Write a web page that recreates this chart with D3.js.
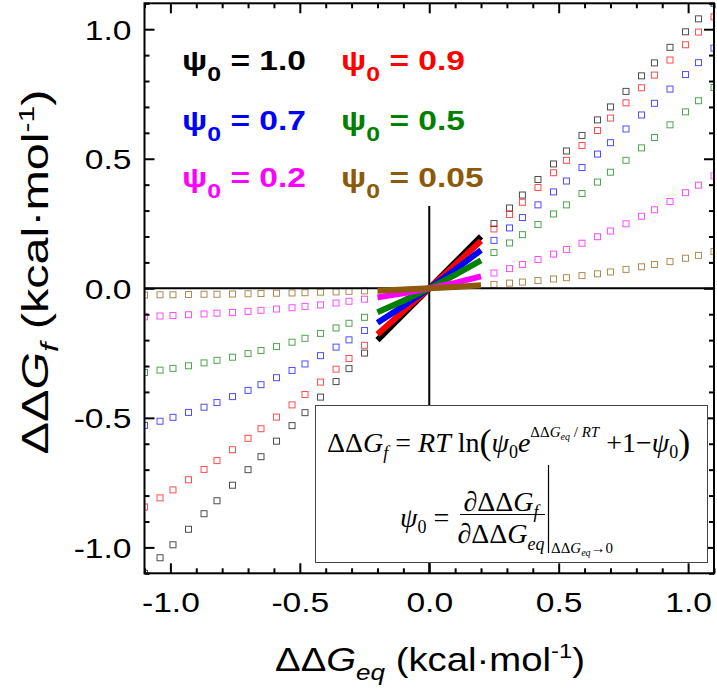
<!DOCTYPE html>
<html>
<head>
<meta charset="utf-8">
<script src="https://cdn.jsdelivr.net/npm/d3@7"></script>
<style>
  body { margin: 0; background: #fff; }
  svg { display: block; font-family: Arial, "Liberation Sans", sans-serif; }
</style>
</head>
<body>
<div id="chart"></div>
<script>
// square markers, ddG_eq on each side of zero
var xPos = [0.25, 0.31, 0.36, 0.42, 0.48, 0.53, 0.59, 0.65, 0.70, 0.76, 0.82, 0.87, 0.93, 0.99, 1.04, 1.10];
var xNeg = [-0.25, -0.31, -0.36, -0.42, -0.48, -0.53, -0.59, -0.65, -0.70, -0.76, -0.82, -0.87, -0.93, -0.99, -1.04, -1.10];

var psiLabels = ["1.0", "0.9", "0.7", "0.5", "0.2", "0.05"];
var colors = ["#000000", "#ff0000", "#0000ff", "#008000", "#ff00ff", "#8c5a0a"];

// ddG_f read for the positive side
var yPos1 = [0.25, 0.31, 0.36, 0.42, 0.48, 0.53, 0.59, 0.65, 0.70, 0.76, 0.82, 0.87, 0.93, 0.99, 1.04, 1.10];
var yPos09 = [0.229, 0.285, 0.332, 0.389, 0.446, 0.494, 0.551, 0.609, 0.657, 0.716, 0.774, 0.823, 0.881, 0.940, 0.989, 1.048];
var yPos07 = [0.185, 0.233, 0.273, 0.322, 0.372, 0.414, 0.466, 0.518, 0.562, 0.615, 0.669, 0.714, 0.769, 0.825, 0.871, 0.927];
var yPos05 = [0.138, 0.175, 0.207, 0.246, 0.287, 0.322, 0.366, 0.410, 0.448, 0.494, 0.542, 0.582, 0.631, 0.681, 0.724, 0.775];
var yPos02 = [0.059, 0.076, 0.092, 0.111, 0.132, 0.150, 0.174, 0.199, 0.221, 0.249, 0.278, 0.303, 0.335, 0.369, 0.398, 0.434];
var yPos005 = [0.015, 0.020, 0.024, 0.030, 0.036, 0.041, 0.049, 0.056, 0.063, 0.073, 0.083, 0.092, 0.103, 0.116, 0.127, 0.142];

// ddG_f read for the negative side
var yNeg1 = [-0.25, -0.31, -0.36, -0.42, -0.48, -0.53, -0.59, -0.65, -0.70, -0.76, -0.82, -0.87, -0.93, -0.99, -1.04, -1.10];
var yNeg09 = [-0.220, -0.271, -0.312, -0.362, -0.410, -0.450, -0.497, -0.542, -0.579, -0.623, -0.665, -0.699, -0.739, -0.778, -0.809, -0.844];
var yNeg07 = [-0.163, -0.199, -0.227, -0.260, -0.292, -0.317, -0.345, -0.372, -0.394, -0.418, -0.441, -0.459, -0.479, -0.498, -0.513, -0.529];
var yNeg05 = [-0.112, -0.135, -0.153, -0.174, -0.193, -0.208, -0.225, -0.240, -0.252, -0.266, -0.278, -0.288, -0.299, -0.309, -0.316, -0.325];
var yNeg02 = [-0.042, -0.050, -0.057, -0.064, -0.070, -0.075, -0.080, -0.085, -0.089, -0.093, -0.096, -0.099, -0.102, -0.105, -0.107, -0.110];
var yNeg005 = [-0.010, -0.012, -0.014, -0.015, -0.017, -0.018, -0.019, -0.020, -0.021, -0.022, -0.023, -0.023, -0.024, -0.025, -0.025, -0.026];

// thick lines near zero
var xNear = [-0.2, -0.1, 0, 0.1, 0.2];
var yNear = [
  [-0.200, -0.100, 0, 0.100, 0.200],
  [-0.177, -0.089, 0, 0.091, 0.183],
  [-0.133, -0.068, 0, 0.072, 0.147],
  [-0.092, -0.048, 0, 0.052, 0.108],
  [-0.035, -0.019, 0, 0.021, 0.046],
  [-0.009, -0.005, 0, 0.005, 0.012]
];

var yPosAll = [yPos1, yPos09, yPos07, yPos05, yPos02, yPos005];
var yNegAll = [yNeg1, yNeg09, yNeg07, yNeg05, yNeg02, yNeg005];

var majorTicks = [-1.0, -0.5, 0.0, 0.5, 1.0];
var minorTicks = [-1.1, -0.9, -0.8, -0.7, -0.6, -0.4, -0.3, -0.2, -0.1, 0.1, 0.2, 0.3, 0.4, 0.6, 0.7, 0.8, 0.9, 1.1];

var W = 717, H = 693;
var pL = 144.5, pR = 714, pT = 3.3, pB = 573.3;

var svg = d3.select("#chart").append("svg")
    .attr("width", W)
    .attr("height", H);

var x = d3.scaleLinear().domain([-1.1, 1.1]).range([pL, pR]);
var y = d3.scaleLinear().domain([-1.1, 1.1]).range([pB, pT]);

svg.append("clipPath").attr("id", "clip")
  .append("rect")
    .attr("x", pL).attr("y", pT)
    .attr("width", pR - pL).attr("height", pB - pT);

var plot = svg.append("g").attr("clip-path", "url(#clip)");

// hollow squares
var sq = 6;
for (var i = 0; i < psiLabels.length; i++) {
  var pts = [];
  xPos.forEach(function (v, j) { pts.push([v, yPosAll[i][j]]); });
  xNeg.forEach(function (v, j) { pts.push([v, yNegAll[i][j]]); });
  plot.append("g").selectAll("rect")
    .data(pts)
    .enter().append("rect")
      .attr("x", function (d) { return x(d[0]) - sq / 2; })
      .attr("y", function (d) { return y(d[1]) - sq / 2; })
      .attr("width", sq).attr("height", sq)
      .attr("fill", "none")
      .attr("stroke", colors[i])
      .attr("stroke-opacity", 0.7)
      .attr("stroke-width", 1);
}

// zero lines
plot.append("line")
  .attr("x1", x(-1.1)).attr("x2", x(1.1))
  .attr("y1", y(0)).attr("y2", y(0))
  .attr("stroke", "#000").attr("stroke-width", 2);
plot.append("line")
  .attr("x1", x(0)).attr("x2", x(0))
  .attr("y1", y(0.318)).attr("y2", y(-1.1))
  .attr("stroke", "#000").attr("stroke-width", 2);

// thick lines
var line = d3.line()
  .x(function (d) { return x(d[0]); })
  .y(function (d) { return y(d[1]); });
for (var i = 0; i < psiLabels.length; i++) {
  var pts = xNear.map(function (v, j) { return [v, yNear[i][j]]; });
  plot.append("path")
    .datum(pts)
    .attr("fill", "none")
    .attr("stroke", colors[i])
    .attr("stroke-width", 6)
    .attr("d", line);
}

// axes, ticks inward on all sides
var fmt = function (d) { return d.toFixed(1); };
var sxTick = 1.2;
function drawAxis(axisFn, ticks, size, tx, ty) {
  var a = axisFn.tickValues(ticks).tickSizeInner(-size).tickSizeOuter(0).tickFormat("");
  var g = svg.append("g")
    .attr("transform", "translate(" + tx + "," + ty + ")")
    .call(a);
  g.select(".domain").remove();
  g.selectAll(".tick line").attr("stroke", "#000").attr("stroke-width", 2);
  return g;
}
var gb = drawAxis(d3.axisBottom(x), majorTicks, 10, 0, pB);
gb.selectAll(".tick text").remove();
gb.selectAll(".tick").append("text")
  .attr("transform", "translate(0,39) scale(" + sxTick + ",1)")
  .attr("text-anchor", "middle")
  .attr("font-size", 28).attr("fill", "#000")
  .text(fmt);
drawAxis(d3.axisBottom(x), minorTicks, 5, 0, pB);
drawAxis(d3.axisTop(x), majorTicks, 10, 0, pT);
drawAxis(d3.axisTop(x), minorTicks, 5, 0, pT);
var gl = drawAxis(d3.axisLeft(y), majorTicks, 10, pL, 0);
gl.selectAll(".tick text").remove();
gl.selectAll(".tick").append("text")
  .attr("transform", "translate(-13,10) scale(" + sxTick + ",1)")
  .attr("text-anchor", "end")
  .attr("font-size", 28).attr("fill", "#000")
  .text(fmt);
drawAxis(d3.axisLeft(y), minorTicks, 5, pL, 0);
drawAxis(d3.axisRight(y), majorTicks, 10, pR, 0);
drawAxis(d3.axisRight(y), minorTicks, 5, pR, 0);

svg.append("rect")
  .attr("x", pL).attr("y", pT)
  .attr("width", pR - pL).attr("height", pB - pT)
  .attr("fill", "none").attr("stroke", "#000").attr("stroke-width", 2);

// legend
var legX = [182, 341];
var legY = [70, 130, 187];
var legScale = null;
psiLabels.forEach(function (lab, i) {
  var g = svg.append("g");
  var t = g.append("text")
    .attr("fill", colors[i])
    .attr("font-weight", "bold")
    .attr("font-size", 27);
  t.append("tspan").text("ψ");
  t.append("tspan").attr("font-size", 20).attr("dy", 11).text("0");
  t.append("tspan").attr("dy", -11).text(" = " + lab);
  if (legScale === null) legScale = 124 / t.node().getComputedTextLength();
  g.attr("transform", "translate(" + legX[i % 2] + "," + legY[Math.floor(i / 2)] + ") scale(" + legScale + ",1)");
});

// formula box
var serif = "'Times New Roman', 'Liberation Serif', serif";
svg.append("rect")
  .attr("x", 315.5).attr("y", 405.5)
  .attr("width", 392).attr("height", 157)
  .attr("fill", "#fff").attr("stroke", "#444").attr("stroke-width", 1);

var f1 = svg.append("text")
  .attr("x", 327).attr("y", 452)
  .attr("font-family", serif).attr("font-size", 28).attr("fill", "#000");
f1.append("tspan").text("ΔΔ");
f1.append("tspan").attr("font-style", "italic").text("G");
f1.append("tspan").attr("font-style", "italic").attr("font-size", 18).attr("dy", 7).text("f");
f1.append("tspan").attr("dy", -7).text(" = ");
f1.append("tspan").attr("font-style", "italic").text("RT");
f1.append("tspan").text(" ln");
f1.append("tspan").attr("font-size", 36).attr("dy", 2).text("(");
f1.append("tspan").attr("font-style", "italic").attr("dy", -2).text("ψ");
f1.append("tspan").attr("font-size", 18).attr("dy", 6).text("0");
f1.append("tspan").attr("font-style", "italic").attr("dy", -6).text("e");
f1.append("tspan").attr("font-size", 15).attr("dy", -15).text("ΔΔ");
f1.append("tspan").attr("font-size", 15).attr("font-style", "italic").text("G");
f1.append("tspan").attr("font-size", 10).attr("font-style", "italic").attr("dy", 3).text("eq");
f1.append("tspan").attr("font-size", 15).attr("dy", -3).text(" / ");
f1.append("tspan").attr("font-size", 15).attr("font-style", "italic").text("RT");
f1.append("tspan").attr("dy", 15).text("  +1−");
f1.append("tspan").attr("font-style", "italic").text("ψ");
f1.append("tspan").attr("font-size", 18).attr("dy", 6).text("0");
f1.append("tspan").attr("font-size", 36).attr("dy", -4).text(")");

var f2 = svg.append("text")
  .attr("x", 400).attr("y", 527)
  .attr("font-family", serif).attr("font-size", 28).attr("fill", "#000");
f2.append("tspan").attr("font-style", "italic").text("ψ");
f2.append("tspan").attr("font-size", 18).attr("dy", 6).text("0");
f2.append("tspan").attr("dy", -6).text(" =");

var num = svg.append("text")
  .attr("x", 501).attr("y", 511).attr("text-anchor", "middle")
  .attr("font-family", serif).attr("font-size", 28).attr("fill", "#000");
num.append("tspan").text("∂ΔΔ");
num.append("tspan").attr("font-style", "italic").text("G");
num.append("tspan").attr("font-style", "italic").attr("font-size", 18).attr("dy", 7).text("f");

var den = svg.append("text")
  .attr("x", 501).attr("y", 543).attr("text-anchor", "middle")
  .attr("font-family", serif).attr("font-size", 28).attr("fill", "#000");
den.append("tspan").text("∂ΔΔ");
den.append("tspan").attr("font-style", "italic").text("G");
den.append("tspan").attr("font-style", "italic").attr("font-size", 18).attr("dy", 7).text("eq");

svg.append("line")
  .attr("x1", 460).attr("x2", 545).attr("y1", 514.5).attr("y2", 514.5)
  .attr("stroke", "#000").attr("stroke-width", 1.2);
svg.append("line")
  .attr("x1", 548.5).attr("x2", 548.5).attr("y1", 465).attr("y2", 553)
  .attr("stroke", "#000").attr("stroke-width", 1.2);

var lim = svg.append("text")
  .attr("x", 551).attr("y", 553)
  .attr("font-family", serif).attr("font-size", 15).attr("fill", "#000");
lim.append("tspan").text("ΔΔ");
lim.append("tspan").attr("font-style", "italic").text("G");
lim.append("tspan").attr("font-style", "italic").attr("font-size", 10).attr("dy", 3).text("eq");
lim.append("tspan").attr("dy", -3).text("→0");

// axis titles
function axisTitle(sub, fontSize, targetLen, transform) {
  var g = svg.append("g");
  var t = g.append("text")
    .attr("text-anchor", "middle")
    .attr("font-size", fontSize).attr("fill", "#000");
  t.append("tspan").text("ΔΔ");
  t.append("tspan").attr("font-style", "italic").text("G");
  t.append("tspan").attr("font-style", "italic").attr("font-size", fontSize * 0.68).attr("dy", fontSize * 0.28).text(sub);
  t.append("tspan").attr("dy", -fontSize * 0.28).text(" (kcal·mol");
  t.append("tspan").attr("font-size", fontSize * 0.62).attr("dy", -fontSize * 0.38).text("-1");
  t.append("tspan").attr("dy", fontSize * 0.38).text(")");
  var s = targetLen / t.node().getComputedTextLength();
  g.attr("transform", transform + " scale(" + s + ",1)");
}
axisTitle("eq", 33, 310, "translate(430,671)");
axisTitle("f", 36, 365, "translate(48,272) rotate(-90)");
</script>
</body>
</html>
